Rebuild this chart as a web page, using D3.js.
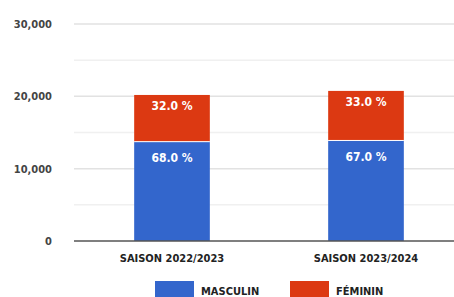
<!DOCTYPE html>
<html><head><meta charset="utf-8">
<script src="https://cdn.jsdelivr.net/npm/d3@7"></script>
<style>body{margin:0;background:#fff}text{font-family:"Liberation Sans Narrow","DejaVu Sans Condensed",sans-serif;}</style>
</head><body><svg id="c" width="454" height="297"></svg>
<script>
const categories = ["SAISON 2022/2023", "SAISON 2023/2024"];
const masculin = [13730, 13900];
const feminin = [6460, 6850];
const masculinPct = ["68.0 %", "67.0 %"];
const femininPct = ["32.0 %", "33.0 %"];
const yTicks = [0, 10000, 20000, 30000];
const yMinor = [5000, 15000, 25000];
const seriesNames = ["MASCULIN", "FÉMININ"];
const colors = ["#3366cc", "#dc3912"];

const svg = d3.select("#c");
const y = d3.scaleLinear().domain([0, 30000]).range([241, 24]);
const x = d3.scaleBand().domain(categories).range([75, 463]).paddingInner(0.61).paddingOuter(0.305);
const fmt = d3.format(",");

svg.selectAll(".minor").data(yMinor).join("line")
  .attr("x1", 74).attr("x2", 454).attr("y1", d => y(d)).attr("y2", d => y(d))
  .attr("stroke", "#f0f0f0").attr("stroke-width", 1.5);
svg.selectAll(".major").data(yTicks.slice(1)).join("line")
  .attr("x1", 74).attr("x2", 454).attr("y1", d => y(d)).attr("y2", d => y(d))
  .attr("stroke", "#e2e2e2").attr("stroke-width", 1.5);
svg.selectAll(".ylab").data(yTicks).join("text")
  .attr("x", 52).attr("y", d => y(d)).attr("dy", "0.35em").attr("text-anchor", "end")
  .attr("font-size", 11).attr("font-weight", "bold").attr("fill", "#444")
  .text(d => fmt(d));

const stackData = categories.map((c, i) => ({c, m: masculin[i], f: feminin[i], mp: masculinPct[i], fp: femininPct[i]}));
const g = svg.selectAll(".bar").data(stackData).join("g");
g.append("rect").attr("x", d => x(d.c)).attr("width", x.bandwidth())
  .attr("y", d => y(d.m)).attr("height", d => y(0) - y(d.m)).attr("fill", colors[0]);
g.append("rect").attr("x", d => x(d.c)).attr("width", x.bandwidth())
  .attr("y", d => y(d.m + d.f)).attr("height", d => y(d.m) - y(d.m + d.f)).attr("fill", colors[1]);
g.append("line").attr("x1", d => x(d.c)).attr("x2", d => x(d.c) + x.bandwidth())
  .attr("y1", d => y(d.m)).attr("y2", d => y(d.m)).attr("stroke", "#fff").attr("stroke-width", 1);
g.append("text").attr("x", d => x(d.c) + x.bandwidth()/2).attr("y", d => y(d.m + d.f) + 11)
  .attr("dy", "0.35em").attr("text-anchor", "middle").attr("font-size", 12).attr("font-weight", "bold")
  .attr("fill", "#fff").text(d => d.fp);
g.append("text").attr("x", d => x(d.c) + x.bandwidth()/2).attr("y", d => y(d.m) + 16)
  .attr("dy", "0.35em").attr("text-anchor", "middle").attr("font-size", 12).attr("font-weight", "bold")
  .attr("fill", "#fff").text(d => d.mp);

svg.append("line").attr("x1", 74).attr("x2", 454).attr("y1", y(0)).attr("y2", y(0))
  .attr("stroke", "#555").attr("stroke-width", 1.5);

svg.selectAll(".xlab").data(categories).join("text")
  .attr("x", d => x(d) + x.bandwidth()/2).attr("y", 262).attr("text-anchor", "middle")
  .attr("font-size", 11).attr("font-weight", "bold").attr("fill", "#222").text(d => d);

const legX = [155, 290];
const lg = svg.selectAll(".leg").data(seriesNames).join("g");
lg.append("rect").attr("x", (d, i) => legX[i]).attr("y", 281).attr("width", 39).attr("height", 18)
  .attr("fill", (d, i) => colors[i]);
lg.append("text").attr("x", (d, i) => legX[i] + 46).attr("y", 291).attr("dy", "0.35em")
  .attr("font-size", 11).attr("font-weight", "bold").attr("fill", "#222").text(d => d);
</script></body></html>
